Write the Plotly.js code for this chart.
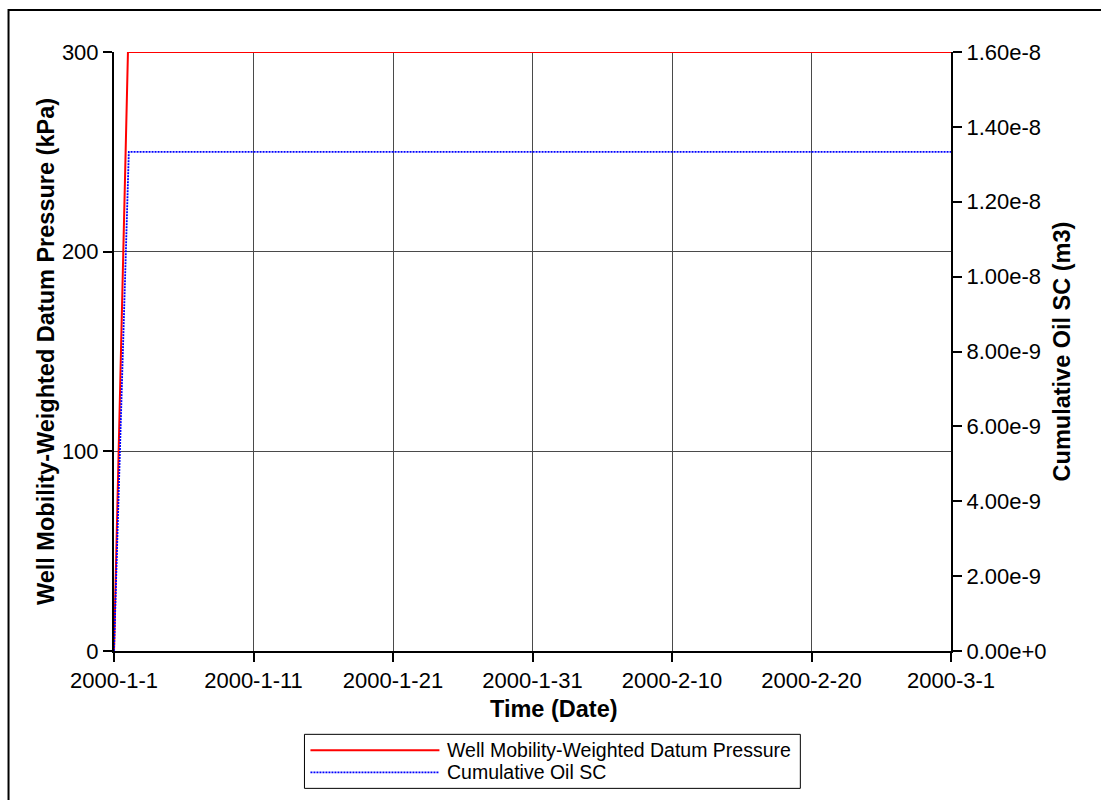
<!DOCTYPE html>
<html>
<head>
<meta charset="utf-8">
<script src="https://cdn.plot.ly/plotly-3.0.1.min.js"></script>
<style>html,body{margin:0;padding:0;background:#fff;}#chart{width:1101px;height:800px;}</style>
</head>
<body>
<div id="chart"></div>
<script>
// Data
var pressureDates = ["2000-01-01", "2000-01-02", "2000-03-01"];
var pressureValues = [0, 300, 300];
var oilDates = ["2000-01-01", "2000-01-02 01:30", "2000-03-01"];
var oilValues = [0, 1.333e-8, 1.333e-8];
var xTickDates = ["2000-01-01", "2000-01-11", "2000-01-21", "2000-01-31", "2000-02-10", "2000-02-20", "2000-03-01"];
var leftTicks = [0, 100, 200, 300];
var rightTicks = [0, 2e-9, 4e-9, 6e-9, 8e-9, 1e-8, 1.2e-8, 1.4e-8, 1.6e-8];
var seriesNames = ["Well Mobility-Weighted Datum Pressure", "Cumulative Oil SC"];

var W = 1101, H = 800;
var L = 113.5, R = 950.7, T = 52, B = 650.7;
var pw = R - L, ph = B - T;
function px(x) { return (x - L) / pw; }
function py(y) { return (B - y) / ph; }

var FONT = "Liberation Sans, Arial, sans-serif";
var TICK = 22, TITLE = 23.5, LEG = 19.5;
var GRID = "#4a4a4a";

var rightTickText = rightTicks.map(function (v) { return v.toExponential(2); });

var traces = [
  {
    x: pressureDates, y: pressureValues, type: "scatter", mode: "lines",
    name: seriesNames[0], line: {color: "#ff0000", width: 2}, yaxis: "y", showlegend: false
  },
  {
    x: oilDates, y: oilValues, type: "scatter", mode: "lines",
    name: seriesNames[1], line: {color: "#0000ff", width: 1.8, dash: "2px,1px"}, yaxis: "y2", showlegend: false
  }
];

var shapes = [
  {type: "rect", xref: "paper", yref: "paper", x0: px(8), x1: px(1200), y0: py(900), y1: py(10),
   line: {color: "#000", width: 2}, layer: "below"},
  {type: "rect", xref: "paper", yref: "paper", x0: px(304), x1: px(800), y0: py(788), y1: py(734),
   line: {color: "#000", width: 1}, fillcolor: "rgba(0,0,0,0)"},
  {type: "line", xref: "paper", yref: "paper", x0: px(310), x1: px(439), y0: py(750), y1: py(750),
   line: {color: "#ff0000", width: 2}},
  {type: "line", xref: "paper", yref: "paper", x0: px(310), x1: px(439), y0: py(772), y1: py(772),
   line: {color: "#0000ff", width: 1.8, dash: "2px,1px"}}
];

var annotations = [
  {xref: "paper", yref: "paper", x: px(445), y: py(750), xanchor: "left", yanchor: "middle",
   text: seriesNames[0], showarrow: false, font: {family: FONT, size: LEG, color: "#000"}},
  {xref: "paper", yref: "paper", x: px(445), y: py(772), xanchor: "left", yanchor: "middle",
   text: seriesNames[1], showarrow: false, font: {family: FONT, size: LEG, color: "#000"}},
  {xref: "paper", yref: "paper", x: px(554), y: py(709), xanchor: "center", yanchor: "middle",
   text: "<b>Time (Date)</b>", showarrow: false, font: {family: FONT, size: TITLE, color: "#000"}}
];

var layout = {
  width: W, height: H,
  margin: {l: L, r: W - R, t: T, b: H - B, pad: 0},
  paper_bgcolor: "#fff", plot_bgcolor: "#fff",
  font: {family: FONT, size: TICK, color: "#000"},
  showlegend: false,
  xaxis: {
    type: "date",
    range: ["2000-01-01", "2000-03-01"],
    tickmode: "array", tickvals: xTickDates, tickformat: "%Y-%-m-%-d",
    ticks: "outside", ticklen: 9, tickwidth: 2, tickcolor: "#000",
    showgrid: true, gridcolor: GRID, gridwidth: 1,
    showline: true, linecolor: "#000", linewidth: 2,
    zeroline: false,
    tickfont: {family: FONT, size: TICK, color: "#000"}
  },
  yaxis: {
    range: [0, 300], tickmode: "array", tickvals: leftTicks,
    ticks: "outside", ticklen: 9, tickwidth: 2, tickcolor: "#000",
    showgrid: true, gridcolor: GRID, gridwidth: 1,
    showline: true, linecolor: "#000", linewidth: 2,
    zeroline: false,
    tickfont: {family: FONT, size: TICK, color: "#000"},
    title: {text: "<b>Well Mobility-Weighted Datum Pressure (kPa)</b>", font: {family: FONT, size: TITLE, color: "#000"}, standoff: 1}
  },
  yaxis2: {
    overlaying: "y", side: "right",
    range: [0, 1.6e-8], tickmode: "array", tickvals: rightTicks, ticktext: rightTickText,
    ticks: "outside", ticklen: 9, tickwidth: 2, tickcolor: "#000",
    showgrid: false,
    showline: true, linecolor: "#000", linewidth: 2,
    zeroline: false,
    tickfont: {family: FONT, size: TICK, color: "#000"},
    title: {text: "<b>Cumulative Oil SC (m3)</b>", font: {family: FONT, size: TITLE, color: "#000"}, standoff: 8}
  },
  shapes: shapes,
  annotations: annotations
};

Plotly.newPlot("chart", traces, layout, {displayModeBar: false, staticPlot: true});
</script>
</body>
</html>
